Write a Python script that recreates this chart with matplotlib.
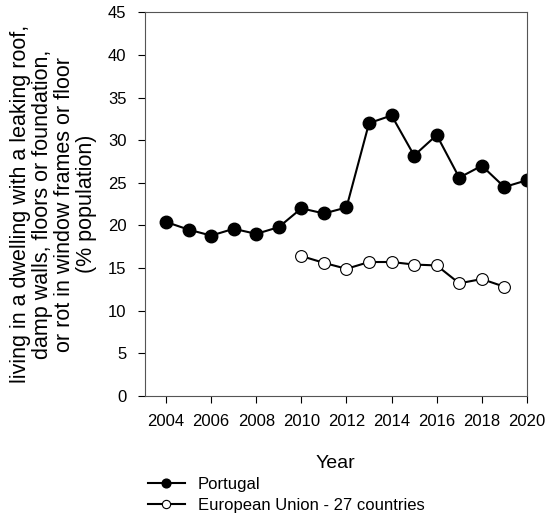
import matplotlib
matplotlib.use('Agg')
from matplotlib import pyplot as plt

plt.rcParams['font.family'] = ['Liberation Sans', 'DejaVu Sans']

pt_years = list(range(2004, 2021))
pt_values = [20.4, 19.5, 18.8, 19.6, 19.0, 19.8, 22.0, 21.4, 22.1,
             32.0, 32.9, 28.2, 30.6, 25.6, 27.0, 24.5, 25.3]

eu_years = list(range(2010, 2020))
eu_values = [16.4, 15.6, 14.9, 15.7, 15.7, 15.4, 15.3, 13.2, 13.7, 12.8]

x_ticks = list(range(2004, 2021, 2))
y_ticks = list(range(0, 46, 5))

fig = plt.figure(figsize=(5.5, 5.16), dpi=100)
ax = fig.add_axes([0.263, 0.233, 0.695, 0.743])

ax.plot(pt_years, pt_values, color='black', linewidth=1.5, marker='o',
        markersize=9, markerfacecolor='black', markeredgecolor='black',
        label='Portugal')
ax.plot(eu_years, eu_values, color='black', linewidth=1.5, marker='o',
        markersize=8.5, markerfacecolor='white', markeredgecolor='black',
        markeredgewidth=0.8, label='European Union - 27 countries')

ax.set_xlim(2003.05, 2020)
ax.set_ylim(0, 45)
ax.set_xticks(x_ticks)
ax.set_yticks(y_ticks)
ax.tick_params(labelsize=12, length=5, width=0.8, direction='out', pad=8)
for s in ax.spines.values():
    s.set_linewidth(0.8)
    s.set_color('#555555')

ax.set_xlabel('Year', fontsize=14, labelpad=19)
ax.set_ylabel('living in a dwelling with a leaking roof,\ndamp walls, floors or foundation,\n'
              'or rot in window frames or floor\n(% population)', fontsize=15.5,
              linespacing=1.05, labelpad=8)

leg = ax.legend(loc='upper left', bbox_to_anchor=(-0.009, -0.195), frameon=False,
                fontsize=12, handlelength=2.2, handletextpad=0.8, labelspacing=0.35,
                borderaxespad=0, markerscale=0.7)

fig.savefig('out.png', dpi=100)
